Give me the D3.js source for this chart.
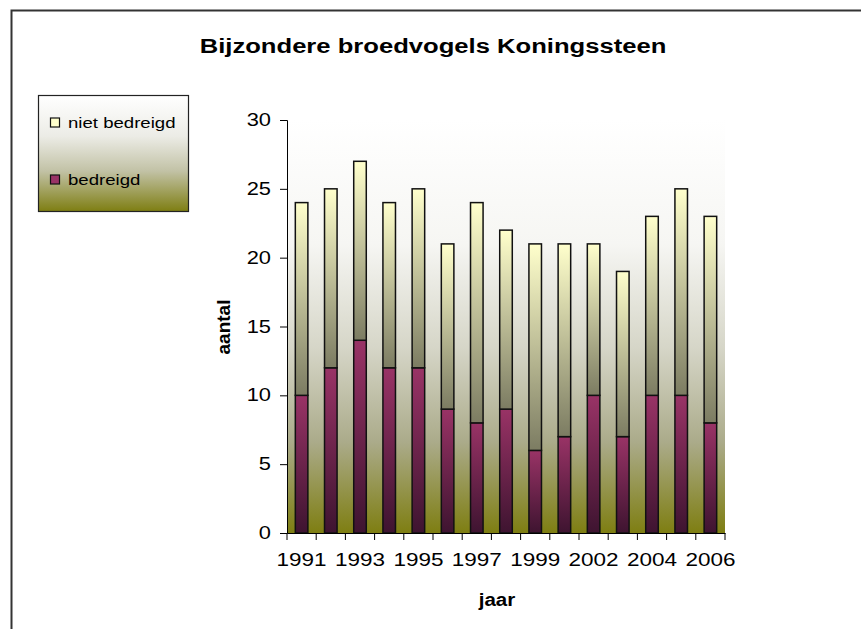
<!DOCTYPE html>
<html><head><meta charset="utf-8">
<script src="https://cdn.jsdelivr.net/npm/d3@7"></script>
<style>body{margin:0;background:#fff}svg{display:block;font-family:"Liberation Sans",Arial,sans-serif}</style>
</head><body><div id="chart"></div>
<script>
const years = ["1991","1992","1993","1994","1995","1996","1997","1998","1999","2001","2002","2003","2004","2005","2006"];
const totals = [24,25,27,24,25,21,24,22,21,21,21,19,23,25,23];
const bedreigd = [10,12,14,12,12,9,8,9,6,7,10,7,10,10,8];
const nietBedreigd = totals.map((t,i)=>t-bedreigd[i]);
const yTicks = [0,5,10,15,20,25,30];
const xLabels = ["1991","1993","1995","1997","1999","2002","2004","2006"];

(function(){
const W=861,H=629;
const svg=d3.select("#chart").append("svg").attr("width",W).attr("height",H);
const defs=svg.append("defs");
function grad(id,stops){const g=defs.append("linearGradient").attr("id",id).attr("x1",0).attr("y1",0).attr("x2",0).attr("y2",1);
 stops.forEach(s=>g.append("stop").attr("offset",s[0]).attr("stop-color",s[1]));}
grad("bg",[[0,"#ffffff"],[0.3,"#f6f6f3"],[0.55,"#d6d6c8"],[0.78,"#abab8a"],[1,"#7e7e12"]]);
grad("lg",[[0,"#ffffff"],[0.35,"#ececе6".replace("е","e")],[0.65,"#c2c2a6"],[1,"#7e7e12"]]);
grad("nb",[[0,"#ffffcc"],[1,"#7c7c62"]]);
grad("bd",[[0,"#993366"],[1,"#3e1430"]]);

// outer border
svg.append("rect").attr("x",11.5).attr("y",10.5).attr("width",W+20).attr("height",H+20)
 .attr("fill","none").attr("stroke","#333").attr("stroke-width",2);

const pl=287,pr=725,pt=120,pb=533;
const x=d3.scaleBand().domain(years).range([pl,pr]).paddingInner(0.57).paddingOuter(0.285);
const xb=d3.scaleBand().domain(years).range([pl,pr]);
const y=d3.scaleLinear().domain([0,30]).range([pb,pt]);

svg.append("rect").attr("x",pl).attr("y",pt).attr("width",pr-pl).attr("height",pb-pt).attr("fill","url(#bg)");

const data=years.map((yr,i)=>({yr,b:bedreigd[i],n:nietBedreigd[i],t:totals[i]}));
const g=svg.append("g");
g.selectAll(".b").data(data).join("rect").attr("x",d=>x(d.yr)).attr("width",x.bandwidth())
 .attr("y",d=>y(d.b)).attr("height",d=>y(0)-y(d.b)).attr("fill","url(#bd)").attr("stroke","#111").attr("stroke-width",1.5);
g.selectAll(".n").data(data).join("rect").attr("x",d=>x(d.yr)).attr("width",x.bandwidth())
 .attr("y",d=>y(d.t)).attr("height",d=>y(d.b)-y(d.t)).attr("fill","url(#nb)").attr("stroke","#111").attr("stroke-width",1.5);

const SX=1.25;
// y axis
const ya=svg.append("g").attr("transform",`translate(${pl},0)`)
 .call(d3.axisLeft(y).tickValues(yTicks).tickSize(7).tickPadding(9).tickFormat(d3.format("d")));
ya.select(".domain").attr("stroke","#000");
ya.selectAll("line").attr("stroke","#000");
ya.selectAll("text").attr("font-size",17.5).attr("font-family","Liberation Sans, Arial").attr("fill","#000")
 .attr("x",0).attr("transform",`translate(-16,0) scale(${SX},1)`);

// x axis
const xa=svg.append("g").attr("transform",`translate(0,${pb})`)
 .call(d3.axisBottom(xb).tickSize(0).tickPadding(20).tickFormat(d=>xLabels.includes(d)?d:""));
xa.select(".domain").attr("stroke","#000");
xa.selectAll("text").attr("font-size",18).attr("font-family","Liberation Sans, Arial").attr("fill","#000")
 .attr("transform",`scale(${SX},1)`);
const bounds=years.map(d=>xb(d)).concat([pr]);
svg.append("g").selectAll("line").data(bounds).join("line").attr("x1",d=>d).attr("x2",d=>d)
 .attr("y1",pb).attr("y2",pb+7).attr("stroke","#000");

// titles
svg.append("text").attr("transform","translate(433,53) scale(1.22,1)").attr("text-anchor","middle").attr("font-size",21).attr("font-weight","bold").text("Bijzondere broedvogels Koningssteen");
svg.append("text").attr("transform","translate(230,327) rotate(-90)").attr("text-anchor","middle").attr("font-size",19).attr("font-weight","bold").text("aantal");
svg.append("text").attr("transform","translate(497,606) scale(1.08,1)").attr("text-anchor","middle").attr("font-size",19).attr("font-weight","bold").text("jaar");

// legend
const lg=svg.append("g");
lg.append("rect").attr("x",38.5).attr("y",95.5).attr("width",150).attr("height",116).attr("fill","url(#lg)").attr("stroke","#222").attr("stroke-width",1.2);
const items=[{label:"niet bedreigd",fill:"#ffffcc",yy:127.5},{label:"bedreigd",fill:"#993366",yy:184.5}];
items.forEach(it=>{
 lg.append("rect").attr("x",50.5).attr("y",it.yy-9.5).attr("width",9).attr("height",9).attr("fill",it.fill).attr("stroke","#111").attr("stroke-width",1.2);
 lg.append("text").attr("transform",`translate(68,${it.yy}) scale(1.2,1)`).attr("font-size",15.5).text(it.label);
});
})();
</script></body></html>
